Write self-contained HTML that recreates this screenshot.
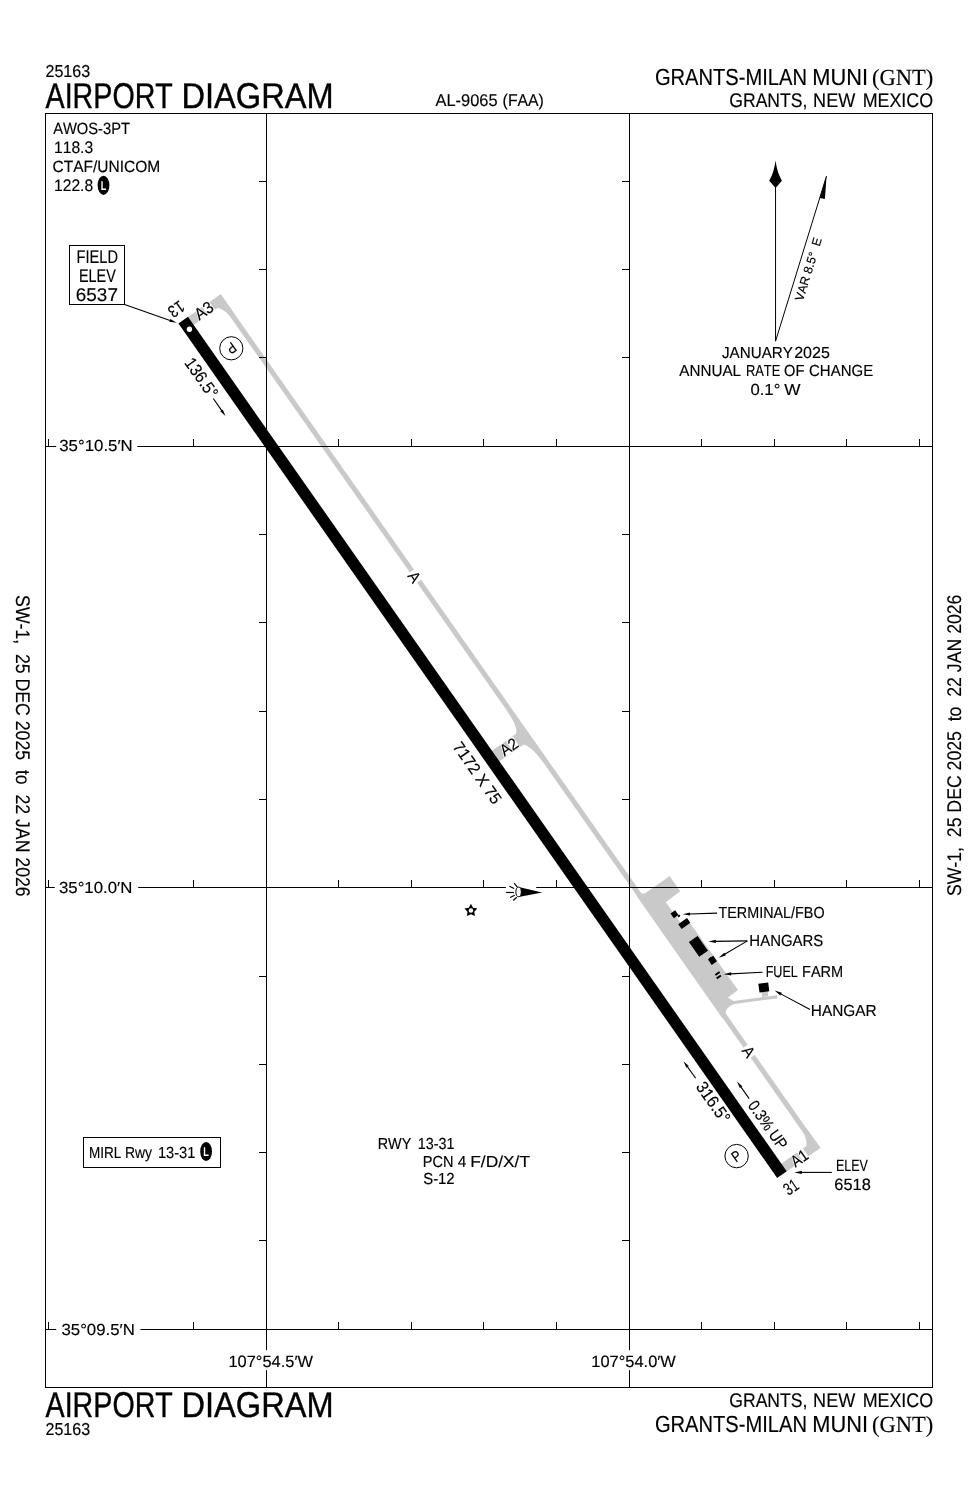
<!DOCTYPE html>
<html lang="en"><head><meta charset="utf-8"><title>GNT Airport Diagram</title>
<style>
html,body{margin:0;padding:0;background:#fff}
svg{display:block}
text{font-kerning:none;stroke:#000;stroke-width:0.16px;fill:#000;white-space:pre;text-rendering:geometricPrecision}
.s{font-family:"Liberation Sans",sans-serif}
.r{font-family:"Liberation Serif",serif}
.k{fill:#000;stroke:none}
.w{fill:#fff;stroke:none}
</style></head><body>
<svg width="978" height="1500" viewBox="0 0 978 1500">
<rect class="w" x="0" y="0" width="978" height="1500"/>
<g stroke="#000">
<g fill="#c9c9c9" stroke="none"><path d="M220.72 294.28 L820.22 1148.01 L816.05 1150.94 L216.54 297.20 Z"/><path d="M183.31 320.36 L220.66 294.20 L234.34 313.67 L230.16 316.60 L228.72 314.55 Q222.00 308.28 217.66 308.02 L188.82 328.23 Z"/><path d="M782.03 1174.78 L820.55 1147.78 L806.32 1128.20 L802.14 1131.13 L804.15 1134.00 Q807.19 1141.63 806.41 1146.09 L776.57 1167.00 Z"/><path d="M507.85 711.18 L507.44 711.47 Q514.22 721.98 515.49 726.58 Q517.22 731.48 515.78 733.95 L487.17 754.00 L494.69 764.73 L523.31 744.67 Q526.42 744.57 531.46 748.98 Q535.48 752.26 542.50 761.39 L542.91 761.10 Z"/></g>
<g fill="#c9c9c9" stroke="none"><path d="M636.84 896.14 L641.64 893.40 L644.77 893.52 L669.67 876.07 L680.23 891.14 L665.80 902.30 L680.63 922.73 L686.69 918.49 L738.00 989.90 L727.90 997.50 L733.50 1000.90 L777.00 995.30 L777.40 998.40 L734.50 1003.90 Q722.96 1008.58 726.44 1015.30 L722.35 1018.17 Z"/><polygon points="761.6,991.0 767.8,990.3 768.2,996.3 762.0,997.0"/></g>
<rect class="w" transform="translate(414.4 576.9) rotate(54.98)" x="-6.2" y="-4.5" width="12.4" height="9"/>
<rect class="w" transform="translate(748.6 1051.7) rotate(54.98)" x="-6.2" y="-4.5" width="12.4" height="9"/>
<g stroke="#000" stroke-width="1" fill="none" shape-rendering="crispEdges"><rect x="45.5" y="113.5" width="887.0" height="1274.0" fill="none"/><line x1="266.5" y1="113.5" x2="266.5" y2="1387.5"/><line x1="629.5" y1="113.5" x2="629.5" y2="1387.5"/><line x1="45.5" y1="446.5" x2="932.5" y2="446.5"/><line x1="45.5" y1="887.5" x2="932.5" y2="887.5"/><line x1="45.5" y1="1329.5" x2="932.5" y2="1329.5"/><line x1="48.5" y1="439.0" x2="48.5" y2="446.5"/><line x1="48.5" y1="880.0" x2="48.5" y2="887.5"/><line x1="48.5" y1="1322.0" x2="48.5" y2="1329.5"/><line x1="120.5" y1="439.0" x2="120.5" y2="446.5"/><line x1="120.5" y1="880.0" x2="120.5" y2="887.5"/><line x1="120.5" y1="1322.0" x2="120.5" y2="1329.5"/><line x1="193.5" y1="439.0" x2="193.5" y2="446.5"/><line x1="193.5" y1="880.0" x2="193.5" y2="887.5"/><line x1="193.5" y1="1322.0" x2="193.5" y2="1329.5"/><line x1="338.5" y1="439.0" x2="338.5" y2="446.5"/><line x1="338.5" y1="880.0" x2="338.5" y2="887.5"/><line x1="338.5" y1="1322.0" x2="338.5" y2="1329.5"/><line x1="411.5" y1="439.0" x2="411.5" y2="446.5"/><line x1="411.5" y1="880.0" x2="411.5" y2="887.5"/><line x1="411.5" y1="1322.0" x2="411.5" y2="1329.5"/><line x1="483.5" y1="439.0" x2="483.5" y2="446.5"/><line x1="483.5" y1="880.0" x2="483.5" y2="887.5"/><line x1="483.5" y1="1322.0" x2="483.5" y2="1329.5"/><line x1="556.5" y1="439.0" x2="556.5" y2="446.5"/><line x1="556.5" y1="880.0" x2="556.5" y2="887.5"/><line x1="556.5" y1="1322.0" x2="556.5" y2="1329.5"/><line x1="701.5" y1="439.0" x2="701.5" y2="446.5"/><line x1="701.5" y1="880.0" x2="701.5" y2="887.5"/><line x1="701.5" y1="1322.0" x2="701.5" y2="1329.5"/><line x1="774.5" y1="439.0" x2="774.5" y2="446.5"/><line x1="774.5" y1="880.0" x2="774.5" y2="887.5"/><line x1="774.5" y1="1322.0" x2="774.5" y2="1329.5"/><line x1="846.5" y1="439.0" x2="846.5" y2="446.5"/><line x1="846.5" y1="880.0" x2="846.5" y2="887.5"/><line x1="846.5" y1="1322.0" x2="846.5" y2="1329.5"/><line x1="919.5" y1="439.0" x2="919.5" y2="446.5"/><line x1="919.5" y1="880.0" x2="919.5" y2="887.5"/><line x1="919.5" y1="1322.0" x2="919.5" y2="1329.5"/><line x1="259.0" y1="181.5" x2="266.5" y2="181.5"/><line x1="622.0" y1="181.5" x2="629.5" y2="181.5"/><line x1="259.0" y1="269.5" x2="266.5" y2="269.5"/><line x1="622.0" y1="269.5" x2="629.5" y2="269.5"/><line x1="259.0" y1="357.5" x2="266.5" y2="357.5"/><line x1="622.0" y1="357.5" x2="629.5" y2="357.5"/><line x1="259.0" y1="534.5" x2="266.5" y2="534.5"/><line x1="622.0" y1="534.5" x2="629.5" y2="534.5"/><line x1="259.0" y1="622.5" x2="266.5" y2="622.5"/><line x1="622.0" y1="622.5" x2="629.5" y2="622.5"/><line x1="259.0" y1="711.5" x2="266.5" y2="711.5"/><line x1="622.0" y1="711.5" x2="629.5" y2="711.5"/><line x1="259.0" y1="799.5" x2="266.5" y2="799.5"/><line x1="622.0" y1="799.5" x2="629.5" y2="799.5"/><line x1="259.0" y1="976.5" x2="266.5" y2="976.5"/><line x1="622.0" y1="976.5" x2="629.5" y2="976.5"/><line x1="259.0" y1="1064.5" x2="266.5" y2="1064.5"/><line x1="622.0" y1="1064.5" x2="629.5" y2="1064.5"/><line x1="259.0" y1="1152.5" x2="266.5" y2="1152.5"/><line x1="622.0" y1="1152.5" x2="629.5" y2="1152.5"/><line x1="259.0" y1="1240.5" x2="266.5" y2="1240.5"/><line x1="622.0" y1="1240.5" x2="629.5" y2="1240.5"/></g>
<rect class="w" x="56.20" y="438.00" width="81.10" height="16.00"/>
<rect class="w" x="54.70" y="879.00" width="83.50" height="16.00"/>
<rect class="w" x="56.20" y="1321.00" width="84.20" height="16.00"/>
<rect class="w" x="264.50" y="1350.20" width="4.00" height="20.00"/>
<rect class="w" x="627.50" y="1350.20" width="4.00" height="20.00"/>
<rect class="w" x="505.80" y="880.00" width="30.40" height="13.00"/>
<polygon class="k" points="178.45,323.53 187.95,316.87 786.66,1171.28 777.16,1177.94"/>
<circle class="w" cx="189.43" cy="329.27" r="2.7"/>
<g class="k"><polygon points="670.53,913.50 673.80,918.17 678.47,914.90 675.20,910.23"/><polygon points="677.34,915.77 678.49,917.41 680.46,916.03 679.31,914.39"/><polygon points="678.27,924.13 681.65,928.96 690.33,922.87 686.95,918.04"/><polygon points="688.85,942.10 699.18,956.84 707.95,950.70 697.62,935.96"/><polygon points="707.99,959.53 711.77,964.94 717.01,961.27 713.23,955.86"/><polygon points="708.65,958.44 710.09,960.48 712.55,958.76 711.11,956.72"/><polygon points="714.83,974.21 715.92,975.77 720.17,972.79 719.08,971.23"/><polygon points="716.13,977.61 717.22,979.17 721.47,976.19 720.38,974.63"/><polygon points="758.3,983.7 768.2,982.5 769.3,991.2 759.5,992.5"/></g>
<text class="s" transform="translate(45.49 76.70) scale(0.9297 1)" font-size="17.30">25163</text>
<text class="s" transform="translate(45.54 107.90) scale(0.8011 1)" font-size="35.76" style="stroke-width:0.4px">AIRPORT</text>
<text class="s" transform="translate(181.53 107.90) scale(0.9111 1)" font-size="35.76" style="stroke-width:0.4px">DIAGRAM</text>
<text class="s" transform="translate(435.47 105.50) scale(0.9662 1)" font-size="17.01">AL-9065</text>
<text class="s" transform="translate(502.62 105.50) scale(0.9293 1)" font-size="17.01">(FAA)</text>
<text class="s" transform="translate(654.89 85.00) scale(0.8659 1)" font-size="23.26">GRANTS-MILAN</text>
<text class="s" transform="translate(812.31 85.00) scale(0.9373 1)" font-size="23.26">MUNI</text>
<text class="r" transform="translate(872.01 84.90) scale(0.9765 1)" font-size="23.06">(GNT)</text>
<text class="s" transform="translate(729.32 107.40) scale(0.8884 1)" font-size="19.77">GRANTS,</text>
<text class="s" transform="translate(813.12 107.40) scale(0.9138 1)" font-size="19.77">NEW</text>
<text class="s" transform="translate(862.63 107.40) scale(0.9044 1)" font-size="19.77">MEXICO</text>
<text class="s" transform="translate(45.54 1417.20) scale(0.8011 1)" font-size="35.76" style="stroke-width:0.4px">AIRPORT</text>
<text class="s" transform="translate(181.53 1417.20) scale(0.9111 1)" font-size="35.76" style="stroke-width:0.4px">DIAGRAM</text>
<text class="s" transform="translate(45.49 1435.20) scale(0.9297 1)" font-size="17.30">25163</text>
<text class="s" transform="translate(729.32 1406.90) scale(0.8884 1)" font-size="19.77">GRANTS,</text>
<text class="s" transform="translate(813.12 1406.90) scale(0.9138 1)" font-size="19.77">NEW</text>
<text class="s" transform="translate(862.63 1406.90) scale(0.9044 1)" font-size="19.77">MEXICO</text>
<text class="s" transform="translate(654.89 1431.70) scale(0.8659 1)" font-size="23.26">GRANTS-MILAN</text>
<text class="s" transform="translate(812.31 1431.70) scale(0.9373 1)" font-size="23.26">MUNI</text>
<text class="r" transform="translate(872.01 1431.50) scale(0.9765 1)" font-size="23.06">(GNT)</text>
<text class="s" transform="translate(53.17 134.40) scale(0.9041 1)" font-size="16.28">AWOS-3PT</text>
<text class="s" transform="translate(54.01 153.40) scale(0.9367 1)" font-size="16.72">118.3</text>
<text class="s" transform="translate(52.51 172.30) scale(0.9533 1)" font-size="16.28">CTAF/UNICOM</text>
<text class="s" transform="translate(54.01 191.20) scale(0.9365 1)" font-size="16.72">122.8</text>
<ellipse class="k" cx="103.50" cy="185.30" rx="5.9" ry="9.6"/>
<text class="s" style="fill:#fff;stroke:none;font-weight:bold" transform="translate(100.76 189.70) scale(0.72 1)" font-size="12.6">L</text>
<rect x="69.5" y="245.5" width="55" height="59" fill="#fff" stroke-width="1" shape-rendering="crispEdges"/>
<text class="s" transform="translate(76.60 262.90) scale(0.7996 1)" font-size="18.31">FIELD</text>
<text class="s" transform="translate(78.92 281.70) scale(0.7868 1)" font-size="18.31">ELEV</text>
<text class="s" transform="translate(75.84 301.40) scale(1.0255 1)" font-size="18.46">6537</text>
<line x1="124.60" y1="304.50" x2="170.76" y2="320.68" stroke-width="1.1"/>
<polygon class="k" points="176.80,322.80 169.30,321.81 170.33,318.89"/>
<text class="s" transform="translate(59.26 450.50) scale(1.0526 1)" font-size="15.99">35°10.5′N</text>
<text class="s" transform="translate(58.96 892.70) scale(1.0511 1)" font-size="15.99">35°10.0′N</text>
<text class="s" transform="translate(61.46 1335.30) scale(1.0511 1)" font-size="15.99">35°09.5′N</text>
<text class="s" transform="translate(228.45 1366.80) scale(1.0010 1)" font-size="16.42">107°54.5′W</text>
<text class="s" transform="translate(591.35 1366.80) scale(1.0010 1)" font-size="16.42">107°54.0′W</text>
<line x1="775.55" y1="341.20" x2="775.55" y2="185.00" stroke-width="1.0"/>
<path class="k" d="M775.55 160.6 Q777.0 172.5 781.9 180.8 L775.55 188.0 L769.2 180.8 Q774.1 172.5 775.55 160.6 Z"/>
<line x1="775.55" y1="341.20" x2="826.50" y2="176.00" stroke-width="1.0"/>
<polygon class="k" points="826.6,175.8 824.9,199.0 819.9,198.0"/>
<text class="s" transform="translate(808.30 269.50) rotate(-72.94) translate(-32.45 4.25) scale(0.9897 1)" font-size="12.35">VAR 8.5°  E</text>
<text class="s" transform="translate(721.96 357.80) scale(0.9524 1)" font-size="15.99">JANUARY</text>
<text class="s" transform="translate(794.19 357.80) scale(1.0031 1)" font-size="15.99">2025</text>
<text class="s" transform="translate(679.27 376.30) scale(0.9518 1)" font-size="15.99">ANNUAL</text>
<text class="s" transform="translate(745.94 376.30) scale(0.8046 1)" font-size="15.99">RATE</text>
<text class="s" transform="translate(784.11 376.30) scale(0.9132 1)" font-size="15.99">OF</text>
<text class="s" transform="translate(809.04 376.30) scale(0.9371 1)" font-size="15.99">CHANGE</text>
<text class="s" transform="translate(750.45 395.20) scale(1.0431 1)" font-size="15.99">0.1°</text>
<text class="s" transform="translate(784.22 395.20) scale(1.0758 1)" font-size="15.99">W</text>
<text class="s" transform="translate(176.30 309.30) rotate(145.00) translate(-8.19 5.90) scale(0.8344 1)" font-size="17.15">13</text>
<g class="w" transform="translate(203.60 310.80) rotate(-35.00)"><polygon points="-5.22,-7.00 -2.82,-7.00 2.26,6.40 -10.30,6.40"/><rect x="1.09" y="-6.40" width="8.81" height="12.80"/></g>
<text class="s" transform="translate(203.60 310.80) rotate(-35.00) translate(-9.23 5.70) scale(0.9432 1)" font-size="16.57">A3</text>
<circle cx="231.3" cy="348.3" r="11.6" fill="none" stroke-width="1"/>
<text class="s" transform="translate(231.30 348.30) rotate(145.00) translate(-4.32 5.20) scale(0.8203 1)" font-size="15.12">P</text>
<text class="s" transform="translate(201.60 377.90) rotate(55.00) translate(-22.68 5.90) scale(0.9064 1)" font-size="17.15">136.5°</text>
<line x1="213.30" y1="398.50" x2="222.08" y2="411.17" stroke-width="1.1"/>
<polygon class="k" points="225.50,416.10 220.28,411.20 222.74,409.49"/>
<text class="s" transform="translate(414.40 576.90) rotate(55.00) translate(-5.03 5.50) scale(0.9432 1)" font-size="15.99">A</text>
<g class="w" transform="translate(508.50 747.10) rotate(-35.00)"><polygon points="-5.06,-6.90 -2.66,-6.90 2.28,6.30 -10.00,6.30"/><rect x="1.27" y="-6.30" width="8.33" height="12.60"/></g>
<text class="s" transform="translate(508.50 747.10) rotate(-35.00) translate(-8.93 5.60) scale(0.9338 1)" font-size="16.28">A2</text>
<text class="s" transform="translate(477.40 772.90) rotate(55.00) translate(-36.01 5.65) scale(0.9597 1)" font-size="16.42">7172 X 75</text>
<text class="s" transform="translate(748.60 1051.70) rotate(55.00) translate(-5.03 5.50) scale(0.9432 1)" font-size="15.99">A</text>
<text class="s" transform="translate(713.20 1102.10) rotate(55.00) translate(-22.85 5.90) scale(0.9252 1)" font-size="17.15">316.5°</text>
<line x1="695.70" y1="1078.30" x2="686.98" y2="1066.08" stroke-width="1.1"/>
<polygon class="k" points="683.50,1061.20 688.79,1066.03 686.34,1067.77"/>
<text class="s" transform="translate(767.80 1124.80) rotate(55.00) translate(-27.65 5.65) scale(0.8561 1)" font-size="16.42">0.3% UP</text>
<line x1="749.20" y1="1098.60" x2="740.48" y2="1086.38" stroke-width="1.1"/>
<polygon class="k" points="737.00,1081.50 742.29,1086.33 739.84,1088.07"/>
<circle cx="736.6" cy="1156.1" r="11.7" fill="none" stroke-width="1"/>
<text class="s" transform="translate(736.60 1156.10) rotate(-35.00) translate(-4.32 5.20) scale(0.8203 1)" font-size="15.12">P</text>
<g class="w" transform="translate(799.10 1158.40) rotate(-35.00)"><polygon points="-4.76,-6.90 -2.36,-6.90 2.18,6.30 -9.30,6.30"/><rect x="1.47" y="-6.30" width="7.43" height="12.60"/></g>
<text class="s" transform="translate(799.10 1158.40) rotate(-35.00) translate(-8.23 5.60) scale(0.8593 1)" font-size="16.28">A1</text>
<text class="s" transform="translate(790.90 1187.10) rotate(-35.00) translate(-6.98 6.00) scale(0.7269 1)" font-size="17.44">31</text>
<text class="s" transform="translate(835.97 1170.50) scale(0.7614 1)" font-size="16.42">ELEV</text>
<text class="s" transform="translate(834.27 1189.50) scale(1.0003 1)" font-size="16.42">6518</text>
<line x1="831.80" y1="1172.40" x2="800.80" y2="1172.40" stroke-width="1.1"/>
<polygon class="k" points="794.40,1172.40 801.80,1170.85 801.80,1173.95"/>
<text class="s" transform="translate(718.48 917.60) scale(0.8981 1)" font-size="15.99">TERMINAL/FBO</text>
<text class="s" transform="translate(749.37 946.00) scale(0.9348 1)" font-size="15.99">HANGARS</text>
<text class="s" transform="translate(765.67 977.20) scale(0.7866 1)" font-size="15.99">FUEL</text>
<text class="s" transform="translate(802.01 977.20) scale(0.9092 1)" font-size="15.99">FARM</text>
<text class="s" transform="translate(810.84 1015.70) scale(0.9631 1)" font-size="15.99">HANGAR</text>
<line x1="717.00" y1="913.10" x2="689.10" y2="913.99" stroke-width="1.1"/>
<polygon class="k" points="682.70,914.20 690.05,912.41 690.15,915.51"/>
<line x1="747.40" y1="940.90" x2="714.80" y2="941.40" stroke-width="1.1"/>
<polygon class="k" points="708.40,941.50 715.78,939.84 715.82,942.94"/>
<line x1="747.40" y1="940.90" x2="724.21" y2="954.55" stroke-width="1.1"/>
<polygon class="k" points="718.70,957.80 724.29,952.71 725.86,955.38"/>
<line x1="762.60" y1="972.30" x2="730.19" y2="973.89" stroke-width="1.1"/>
<polygon class="k" points="723.80,974.20 731.12,972.29 731.27,975.39"/>
<line x1="810.00" y1="1009.60" x2="780.24" y2="993.63" stroke-width="1.1"/>
<polygon class="k" points="774.60,990.60 781.85,992.73 780.39,995.47"/>
<rect x="83.5" y="1137.5" width="137" height="30" fill="#fff" stroke-width="1" shape-rendering="crispEdges"/>
<text class="s" transform="translate(88.89 1157.60) scale(0.8444 1)" font-size="15.99">MIRL</text>
<text class="s" transform="translate(125.06 1157.60) scale(0.8674 1)" font-size="15.99">Rwy</text>
<text class="s" transform="translate(157.89 1157.60) scale(0.9153 1)" font-size="15.99">13-31</text>
<ellipse class="k" cx="206.10" cy="1151.50" rx="5.9" ry="9.6"/>
<text class="s" style="fill:#fff;stroke:none;font-weight:bold" transform="translate(203.36 1155.90) scale(0.72 1)" font-size="12.6">L</text>
<text class="s" transform="translate(377.72 1148.70) scale(0.9007 1)" font-size="15.99">RWY</text>
<text class="s" transform="translate(417.71 1148.70) scale(0.8973 1)" font-size="15.99">13-31</text>
<text class="s" transform="translate(422.71 1166.60) scale(0.9087 1)" font-size="15.99">PCN</text>
<text class="s" transform="translate(457.64 1166.60) scale(0.9681 1)" font-size="15.99">4</text>
<text class="s" transform="translate(470.17 1166.60) scale(1.0882 1)" font-size="15.99">F/D/X/T</text>
<text class="s" transform="translate(423.22 1184.10) scale(0.9304 1)" font-size="15.99">S-12</text>
<polygon class="k" points="470.90,903.80 473.02,907.69 477.37,908.50 474.32,911.71 474.90,916.10 470.90,914.20 466.90,916.10 467.48,911.71 464.43,908.50 468.78,907.69"/>
<circle class="w" cx="470.95" cy="910.4" r="2.25"/>
<polygon class="k" points="518.6,887.0 542.2,892.4 518.6,897.0"/>
<ellipse cx="518.6" cy="891.9" rx="2.7" ry="4.8" fill="#fff" stroke-width="1.0"/>
<line x1="506.10" y1="892.50" x2="513.90" y2="892.50" stroke-width="1.15"/>
<line x1="509.40" y1="886.30" x2="514.10" y2="888.60" stroke-width="1.15"/>
<line x1="514.10" y1="883.20" x2="517.40" y2="887.10" stroke-width="1.15"/>
<line x1="510.10" y1="897.60" x2="514.80" y2="895.30" stroke-width="1.15"/>
<line x1="513.20" y1="900.50" x2="516.80" y2="897.30" stroke-width="1.15"/>
<text class="s" transform="translate(15.5 595.10) rotate(90) scale(0.8940 1)" font-size="19.77">SW-1,  25 DEC 2025  to  22 JAN 2026</text>
<text class="s" transform="translate(961.0 896.10) rotate(-90) scale(0.8940 1)" font-size="19.77">SW-1,  25 DEC 2025  to  22 JAN 2026</text>
</g>
</svg>
</body></html>
